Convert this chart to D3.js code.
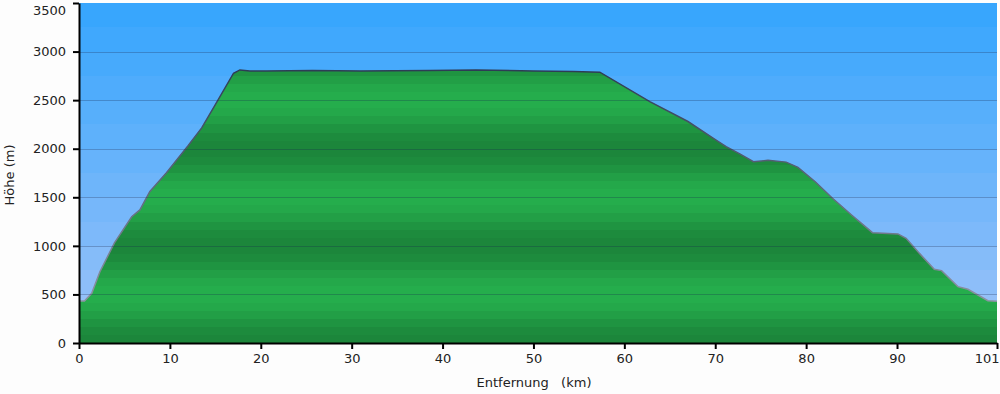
<!DOCTYPE html>
<html>
<head>
<meta charset="utf-8">
<script src="https://cdn.jsdelivr.net/npm/d3@7"></script>
<style>
  body { margin: 0; background: #fdfdfd; }
  svg { display: block; }
</style>
</head>
<body>
<div id="chart"></div>
<script>
// profile: distance (km) and elevation (m)
const distKm = [0, 0.6, 1.4, 2.3, 3.9, 5.8, 6.7, 7.8, 9.6, 12.0, 13.5, 15.0, 17.0, 17.7, 18.8,
  20.6, 25.7, 31, 38.6, 43.7, 50, 54.4, 57.3, 62.8, 67.0, 69.8, 71.2, 72.7, 74.2, 75.8,
  77.8, 79.1, 81, 82.9, 85, 87.3, 90.1, 91.0, 92.5, 94.1, 94.9, 96.7, 97.8, 100.0, 101];
const elevM = [432, 432, 512, 734, 1030, 1300, 1370, 1560, 1750, 2030, 2215, 2455, 2777, 2811, 2800,
  2800, 2806, 2800, 2805, 2811, 2800, 2796, 2788, 2485, 2280, 2107, 2021, 1946, 1866, 1880,
  1862, 1808, 1660, 1490, 1318, 1136, 1123, 1078, 920, 759, 745, 580, 553, 436, 430];

const xTicks = [0, 10, 20, 30, 40, 50, 60, 70, 80, 90, 101];
const yTicks = [0, 500, 1000, 1500, 2000, 2500, 3000, 3500];
const xTitle = 'Entfernung\u00a0\u00a0\u00a0(km)';
const yTitle = 'Höhe (m)';

const W = 1000, H = 394;
const margin = { left: 79, top: 3, right: 3, bottom: 51 };
const width = W - margin.left - margin.right;
const height = H - margin.top - margin.bottom;
const font = '"DejaVu Sans", Verdana, sans-serif';

const data = distKm.map((d, i) => ({ x: d, y: elevM[i] }));

const svg = d3.select('#chart').append('svg')
    .attr('width', W)
    .attr('height', H)
    .attr('font-family', font);

const x = d3.scaleLinear().domain([0, 101]).range([0, width]);
const y = d3.scaleLinear().domain([0, 3500]).range([height, 0]);

const defs = svg.append('defs');

// stepped sky gradient
const sky = defs.append('linearGradient')
    .attr('id', 'sky')
    .attr('gradientUnits', 'userSpaceOnUse')
    .attr('x1', 0).attr('x2', 0).attr('y1', y(3500)).attr('y2', y(0));
const skyCol = d3.interpolateRgb('#38a6fd', '#9cc2f8');
const skySteps = 14;
for (let i = 0; i < skySteps; i++) {
  const c = skyCol(i / (skySteps - 1));
  sky.append('stop').attr('offset', i / skySteps).attr('stop-color', c);
  sky.append('stop').attr('offset', (i + 1) / skySteps).attr('stop-color', c);
}

// stepped green bands, dark at each 1000 m, light at each x500 m
const ground = defs.append('linearGradient')
    .attr('id', 'ground')
    .attr('gradientUnits', 'userSpaceOnUse')
    .attr('x1', 0).attr('x2', 0).attr('y1', y(3500)).attr('y2', y(0));
const dark = '#1c853b', light = '#25ae4c';
const nb = 42;
for (let i = 0; i < nb; i++) {
  const m = 3500 - (i + 0.5) * 3500 / nb;
  const t = (Math.cos(m / 1000 * 2 * Math.PI) + 1) / 2;
  const c = d3.interpolateRgb(light, dark)(t);
  ground.append('stop').attr('offset', i / nb).attr('stop-color', c);
  ground.append('stop').attr('offset', (i + 1) / nb).attr('stop-color', c);
}

const edge = defs.append('linearGradient')
    .attr('id', 'edge')
    .attr('gradientUnits', 'userSpaceOnUse')
    .attr('x1', 0).attr('x2', 0).attr('y1', y(2800)).attr('y2', y(400));
edge.append('stop').attr('offset', 0).attr('stop-color', '#2e3c55');
edge.append('stop').attr('offset', 1).attr('stop-color', '#8d93a3');

defs.append('clipPath').attr('id', 'clip')
  .append('rect').attr('width', width).attr('height', height);

const g = svg.append('g')
    .attr('transform', 'translate(' + margin.left + ',' + margin.top + ')');

g.append('rect')
    .attr('width', width)
    .attr('height', height)
    .attr('fill', 'url(#sky)');

const plot = g.append('g').attr('clip-path', 'url(#clip)');

plot.append('path')
    .datum(data)
    .attr('fill', 'url(#ground)')
    .attr('d', d3.area()
      .x(d => x(d.x))
      .y0(y(0))
      .y1(d => y(d.y)));

plot.append('path')
    .datum(data)
    .attr('fill', 'none')
    .attr('stroke', 'url(#edge)')
    .attr('stroke-width', 1.5)
    .attr('d', d3.line()
      .x(d => x(d.x))
      .y(d => y(d.y)));

// grid lines over everything
plot.selectAll('line.grid')
  .data(yTicks.slice(1, -1))
  .enter()
  .append('line')
    .attr('class', 'grid')
    .attr('x1', 0)
    .attr('x2', width)
    .attr('y1', d => Math.round(y(d)) + 0.5)
    .attr('y2', d => Math.round(y(d)) + 0.5)
    .attr('stroke', 'rgba(20,40,80,0.28)');

// axes
const xAxis = g.append('g')
    .attr('transform', 'translate(0,' + height + ')')
    .call(d3.axisBottom(x).tickValues(xTicks).tickFormat(d3.format('d'))
      .tickSize(6).tickSizeOuter(0).tickPadding(5));

const yAxis = g.append('g')
    .call(d3.axisLeft(y).tickValues(yTicks).tickFormat(d3.format('d'))
      .tickSize(6).tickSizeOuter(0).tickPadding(7));

[xAxis, yAxis].forEach(a => {
  a.attr('font-family', font).attr('font-size', 13);
  a.select('.domain').attr('stroke', '#000').attr('stroke-width', 2);
  a.selectAll('.tick line').attr('stroke', '#000').attr('stroke-width', 2);
  a.selectAll('.tick text').attr('fill', '#222');
});

// last x label pulled inside, top y label pushed down
xAxis.selectAll('.tick text').filter(d => d === 101)
    .attr('text-anchor', 'end').attr('dx', 2);
yAxis.selectAll('.tick text').filter(d => d === 3500)
    .attr('dy', '0.85em');

svg.append('text')
    .attr('x', margin.left + width / 2 - 4)
    .attr('y', 387)
    .attr('text-anchor', 'middle')
    .attr('font-size', 13)
    .attr('fill', '#222')
    .text(xTitle);

svg.append('text')
    .attr('transform', 'translate(14,' + (margin.top + height / 2 + 2) + ') rotate(-90)')
    .attr('text-anchor', 'middle')
    .attr('font-size', 13)
    .attr('fill', '#222')
    .text(yTitle);
</script>
</body>
</html>
